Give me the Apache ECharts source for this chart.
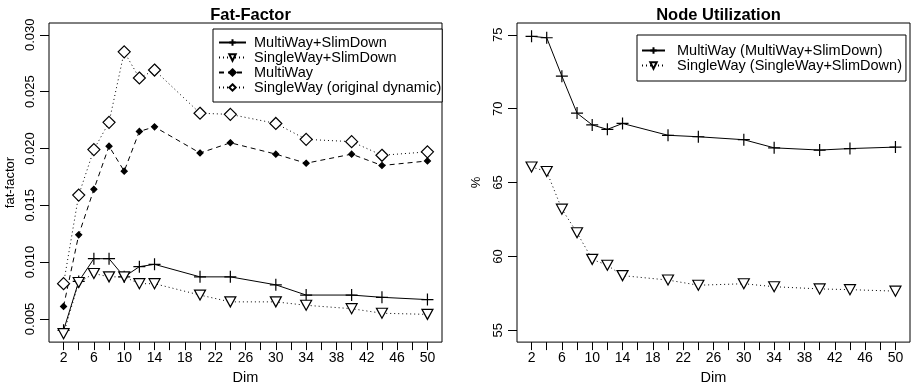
<!DOCTYPE html>
<html>
<head>
<meta charset="utf-8">
<script src="https://cdn.jsdelivr.net/npm/echarts@6.0.0/dist/echarts.min.js"></script>
<style>
  html, body { margin: 0; padding: 0; background: #fff; }
  #chart { width: 913px; height: 390px; }
</style>
</head>
<body>
<div id="chart"></div>
<script>
// Dimensionality of the indexed data
const dims = [2, 4, 6, 8, 10, 12, 14, 20, 24, 30, 34, 40, 44, 50];

// Fat-factor per strategy
const fatMultiSlim  = [0.0040, 0.0083, 0.0103, 0.0103, 0.0087, 0.0096, 0.0098, 0.0087, 0.0087, 0.0080, 0.0071, 0.0071, 0.0069, 0.0067];
const fatSingleSlim = [0.0037, 0.0082, 0.0090, 0.0087, 0.0087, 0.0081, 0.0081, 0.0071, 0.0065, 0.0065, 0.0062, 0.0059, 0.0055, 0.0054];
const fatMulti      = [0.0061, 0.0124, 0.0164, 0.0202, 0.0180, 0.0215, 0.0219, 0.0196, 0.0205, 0.0195, 0.0187, 0.0195, 0.0185, 0.0189];
const fatSingle     = [0.0081, 0.0159, 0.0199, 0.0223, 0.0285, 0.0262, 0.0269, 0.0231, 0.0230, 0.0222, 0.0208, 0.0206, 0.0194, 0.0197];

// Node utilization (%)
const nuMulti  = [74.9, 74.8, 72.2, 69.7, 68.9, 68.6, 69.0, 68.2, 68.1, 67.9, 67.35, 67.2, 67.3, 67.4];
const nuSingle = [66.05, 65.75, 63.2, 61.6, 59.8, 59.4, 58.7, 58.4, 58.05, 58.15, 57.95, 57.8, 57.75, 57.65];

// Axis ticks and labels
const xTicks = [2, 4, 6, 8, 10, 12, 14, 16, 18, 20, 22, 24, 26, 28, 30, 32, 34, 36, 38, 40, 42, 44, 46, 48, 50];
const xLabels = [2, 6, 10, 14, 18, 22, 26, 30, 34, 38, 42, 46, 50];
const fatTicks = [0.005, 0.010, 0.015, 0.020, 0.025, 0.030];
const nuTicks = [55, 60, 65, 70, 75];

const FONT = '"Liberation Sans", Arial, Helvetica, sans-serif';
const pairs = vals => dims.map((d, i) => [d, vals[i]]);

const PLUS = 'path://M0,6H12M6,0V12';
const TRI_DOWN = 'path://M0,0H12L6,10.4Z';
const DOTTED = [1, 3];
const DASHED = [5, 4];

function lineSeries(name, gi, vals, symbol, size, fill, dash) {
  return {
    type: 'line', name: name,
    xAxisIndex: gi, yAxisIndex: gi,
    data: pairs(vals),
    symbol: symbol, symbolSize: size,
    showAllSymbol: true,
    lineStyle: { color: '#000', width: 1, type: dash },
    itemStyle: { color: fill, borderColor: '#000', borderWidth: 1.2 },
    emphasis: { disabled: true },
    z: 3
  };
}

function xAxis(gi) {
  return {
    type: 'value', gridIndex: gi, min: 0.08, max: 51.92,
    name: 'Dim', nameLocation: 'middle', nameGap: 23,
    nameTextStyle: { color: '#000', fontSize: 14.5, fontFamily: FONT },
    axisLine: { show: false },
    axisTick: { show: true, inside: false, length: 8, customValues: xTicks, lineStyle: { color: '#000', width: 1 } },
    axisLabel: { show: true, color: '#000', fontSize: 14, fontFamily: FONT, margin: 9, customValues: xLabels },
    splitLine: { show: false }
  };
}

function yAxis(gi, min, max, ticks, fmt, name, nameGap) {
  return {
    type: 'value', gridIndex: gi, min: min, max: max,
    name: name, nameLocation: 'middle', nameGap: nameGap, nameRotate: 90,
    nameTextStyle: { color: '#000', fontSize: 13, fontFamily: FONT },
    axisLine: { show: false },
    axisTick: { show: true, inside: false, length: 9, customValues: ticks, lineStyle: { color: '#000', width: 1 } },
    axisLabel: { show: true, color: '#000', fontSize: 13, fontFamily: FONT, rotate: 90, margin: 12,
                 customValues: ticks, formatter: fmt },
    splitLine: { show: false }
  };
}

const legendText = { color: '#000', fontSize: 14.5, fontFamily: FONT };

const chart = echarts.init(document.getElementById('chart'), null, { renderer: 'canvas' });
chart.setOption({
  animation: false,
  backgroundColor: '#fff',
  title: [
    { text: 'Fat-Factor', left: 245.5, top: 2, textAlign: 'center',
      textStyle: { fontSize: 16.5, fontWeight: 'bold', color: '#000', fontFamily: FONT } },
    { text: 'Node Utilization', left: 713.5, top: 2, textAlign: 'center',
      textStyle: { fontSize: 16.5, fontWeight: 'bold', color: '#000', fontFamily: FONT } }
  ],
  grid: [
    { left: 49, top: 23, width: 393, bottom: 44, show: true, borderColor: '#000', borderWidth: 1, backgroundColor: 'transparent' },
    { left: 517, top: 23, width: 393, bottom: 44, show: true, borderColor: '#000', borderWidth: 1, backgroundColor: 'transparent' }
  ],
  legend: [
    {
      data: ['MultiWay+SlimDown', 'SingleWay+SlimDown', 'MultiWay', 'SingleWay (original dynamic)'],
      orient: 'vertical', left: 213, top: 29,
      padding: [6, 1, 7, 5], itemGap: 0, itemWidth: 27, itemHeight: 8,
      borderColor: '#000', borderWidth: 1, backgroundColor: '#fff',
      textStyle: Object.assign({ lineHeight: 15, padding: [0, 0, 0, 3] }, legendText),
      selectedMode: false
    },
    {
      data: ['MultiWay (MultiWay+SlimDown)', 'SingleWay (SingleWay+SlimDown)'],
      orient: 'vertical', left: 637, top: 35,
      padding: [8, 4, 8, 4], itemGap: 0, itemWidth: 23, itemHeight: 8,
      borderColor: '#000', borderWidth: 1, backgroundColor: '#fff',
      textStyle: Object.assign({ lineHeight: 14, padding: [0, 0, 0, 7] }, legendText),
      selectedMode: false
    }
  ],
  xAxis: [xAxis(0), xAxis(1)],
  yAxis: [
    yAxis(0, 0.00296, 0.03104, fatTicks, v => v.toFixed(3), 'fat-factor', 32),
    yAxis(1, 54.2, 75.8, nuTicks, v => String(v), '%', 34)
  ],
  series: [
    lineSeries('MultiWay+SlimDown', 0, fatMultiSlim, PLUS, 12, '#000', 'solid'),
    lineSeries('SingleWay+SlimDown', 0, fatSingleSlim, TRI_DOWN, [11, 10], '#fff', DOTTED),
    lineSeries('MultiWay', 0, fatMulti, 'diamond', 6, '#000', DASHED),
    lineSeries('SingleWay (original dynamic)', 0, fatSingle, 'diamond', 12, '#fff', DOTTED),
    lineSeries('MultiWay (MultiWay+SlimDown)', 1, nuMulti, PLUS, 12, '#000', 'solid'),
    lineSeries('SingleWay (SingleWay+SlimDown)', 1, nuSingle, TRI_DOWN, [11, 10], '#fff', DOTTED)
  ]
});
</script>
</body>
</html>
